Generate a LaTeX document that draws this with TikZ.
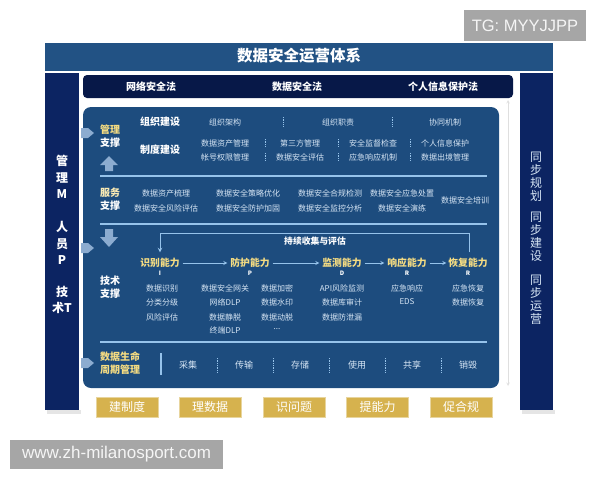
\documentclass[tikz,border=0pt]{standalone}
\usepackage{fontspec}
\setmainfont{Noto Sans CJK SC}
\newfontfamily\wmfont{Liberation Sans}
\definecolor{titleblue}{RGB}{34,82,132}
\definecolor{navy}{RGB}{12,36,98}
\definecolor{lawnavy}{RGB}{7,24,72}
\definecolor{panelblue}{RGB}{29,76,126}
\definecolor{lineblue}{RGB}{150,195,235}
\definecolor{itemtext}{RGB}{215,230,245}
\definecolor{goldtext}{RGB}{245,220,130}
\definecolor{goldbtn}{RGB}{214,178,78}
\definecolor{chevron}{RGB}{140,172,208}
\definecolor{wmgray}{RGB}{166,166,166}
\begin{document}
\begin{tikzpicture}[x=1pt, y=-1pt, line join=miter,
	every node/.style={inner sep=1pt, outer sep=0pt},
	titletext/.style={text=white, font=\bfseries\fontsize{15.5}{15.5}\selectfont},
	lawtext/.style={text=white, font=\bfseries\fontsize{10}{10}\selectfont},
	sidetext/.style={text=white, align=center, font=\bfseries\fontsize{12}{16.5}\selectfont},
	synctext/.style={text=itemtext, align=center, font=\fontsize{12}{13}\selectfont},
	headtext/.style={text=white, align=center, font=\bfseries\fontsize{10}{12.5}\selectfont},
	item/.style={text=itemtext, font=\fontsize{8}{8}\selectfont},
	ability/.style={text=goldtext, font=\bfseries\fontsize{9.8}{9.8}\selectfont},
	letter/.style={text=white, font=\bfseries\fontsize{6}{6}\selectfont},
	flow/.style={->, >=stealth, draw=lineblue, line width=0.8pt},
	hline/.style={draw=lineblue, line width=1.2pt},
	dotsep/.style={draw=lineblue, densely dotted, line width=0.7pt},
	goldbox/.style={fill=goldbtn, draw=goldbtn!55!white, text=white, minimum width=62pt, minimum height=20pt, font=\fontsize{12}{12}\selectfont},
	wmbox/.style={fill=wmgray, text=white!92!gray, font=\wmfont\fontsize{16.5}{16.5}\selectfont, inner sep=0pt}]
	\useasboundingbox (0,0) rectangle (600,480);
	
	% Khung nền
	\fill[titleblue] (45,43) rectangle (553,71);
	\fill[gray!20] (47,410) rectangle (81,414);
	\fill[gray!20] (522,410) rectangle (555,414);
	\fill[navy] (45,73) rectangle (79,410);
	\fill[navy] (520,73) rectangle (553,410);
	\fill[lawnavy, rounded corners=4pt] (83,75) rectangle (513,98);
	\fill[panelblue, rounded corners=8pt] (83,107) rectangle (499,388);
	\coordinate (railtop) at (508,100);
	\coordinate (railbot) at (508,386);
	\draw[<->, >=stealth, gray!25, line width=0.6pt] (railtop) -- (railbot);
	
	% Tiêu đề và luật
	\node[titletext] (title) at (299,56) {数据安全运营体系};
	\node[lawtext] (law1) at (151,86.5) {网络安全法};
	\node[lawtext] (law2) at (297,86.5) {数据安全法};
	\node[lawtext] (law3) at (443,86.5) {个人信息保护法};
	
	% Cột trái và cột phải
	\node[sidetext] (colm) at (62,177) {管\\理\\M};
	\node[sidetext] (colp) at (62,243) {人\\员\\P};
	\node[sidetext] (colt) at (62,300) {技\\术T};
	\node[synctext] (sync1) at (536,176.5) {同\\步\\规\\划};
	\node[synctext] (sync2) at (536,236.5) {同\\步\\建\\设};
	\node[synctext] (sync3) at (536,299.5) {同\\步\\运\\营};
	
	% Mũi tên bên trái
	\foreach \y in {133,248,363}
		\fill[chevron] (81,\y-5) -- (88,\y-5) -- (94,\y) -- (88,\y+5) -- (81,\y+5) -- cycle;
	\fill[chevron] (109,156) -- (118,165) -- (113,165) -- (113,171) -- (105,171) -- (105,165) -- (100,165) -- cycle;
	\fill[chevron] (105,229) -- (113,229) -- (113,237) -- (118,237) -- (109,247) -- (100,237) -- (105,237) -- cycle;
	
	% Quản lý
	\node[headtext] (mgmt) at (110,136) {\textcolor{goldtext}{管理}\\支撑};
	\node[headtext] (org) at (160,122) {组织建设};
	\node[headtext] (rules) at (160,150) {制度建设};
	\node[item] (org1) at (225,122) {组织架构};
	\node[item] (org2) at (338,122) {组织职责};
	\node[item] (org3) at (445,122) {协同机制};
	\node[item] (rule1) at (225,143) {数据资产管理};
	\node[item] (rule2) at (300,143) {第三方管理};
	\node[item] (rule3) at (373,143) {安全监督检查};
	\node[item] (rule4) at (445,143) {个人信息保护};
	\node[item] (rule5) at (225,157) {帐号权限管理};
	\node[item] (rule6) at (300,157) {数据安全评估};
	\node[item] (rule7) at (373,157) {应急响应机制};
	\node[item] (rule8) at (445,157) {数据出境管理};
	\foreach \x in {283,392}
		\draw[dotsep] (\x,117) -- (\x,127);
	\foreach \x in {265,338,410} {
		\draw[dotsep] (\x,139) -- (\x,147);
		\draw[dotsep] (\x,153) -- (\x,161);
	}
	\draw[hline] (100,176) -- (487,176);
	
	% Dịch vụ
	\node[headtext] (serv) at (110,199) {\textcolor{goldtext!60!white}{服务}\\支撑};
	\node[item] (serv1) at (166,193) {数据资产梳理};
	\node[item] (serv2) at (248,193) {数据安全策略优化};
	\node[item] (serv3) at (330,193) {数据安全合规检测};
	\node[item] (serv4) at (402,193) {数据安全应急处置};
	\node[item] (serv5) at (166,208) {数据安全风险评估};
	\node[item] (serv6) at (248,208) {数据安全防护加固};
	\node[item] (serv7) at (330,208) {数据安全监控分析};
	\node[item] (serv8) at (402,208) {数据安全演练};
	\node[item] (serv9) at (465,200) {数据安全培训};
	\draw[hline] (100,224) -- (487,224);
	
	% Kỹ thuật
	\node[headtext] (tech) at (110,287) {技术\\支撑};
	\node[ability] (ident) at (160,263) {识别能力};
	\node[ability] (prot) at (250,263) {防护能力};
	\node[ability] (moni) at (342,263) {监测能力};
	\node[ability] (resp) at (407,263) {响应能力};
	\node[ability] (reco) at (468,263) {恢复能力};
	\draw[flow, shorten <=2pt, shorten >=2pt] (ident) -- (prot);
	\draw[flow, shorten <=2pt, shorten >=2pt] (prot) -- (moni);
	\draw[flow, shorten <=2pt, shorten >=2pt] (moni) -- (resp);
	\draw[flow, shorten <=2pt, shorten >=1pt] (resp) -- (reco);
	\coordinate (loopR) at (469,233);
	\coordinate (loopL) at (160,233);
	\draw[flow, line width=1pt, shorten <=5pt, shorten >=5pt] (reco.north -| loopR) -- (loopR) -- (loopL) -- (ident.north);
	\node[headtext, font=\bfseries\fontsize{8.8}{8.8}\selectfont] (loop) at (315,241) {持续收集与评估};
	\node[letter] (li) at (160,273.5) {I};
	\node[letter] (lp) at (250,273.5) {P};
	\node[letter] (ld) at (342,273.5) {D};
	\node[letter] (lr1) at (407,273.5) {R};
	\node[letter] (lr2) at (468,273.5) {R};
	\node[item] (id1) at (162,288) {数据识别};
	\node[item] (id2) at (162,302) {分类分级};
	\node[item] (id3) at (162,317) {风险评估};
	\node[item] (pr1) at (225,288) {数据安全网关};
	\node[item] (pr2) at (225,302) {网络DLP};
	\node[item] (pr3) at (225,317) {数据静脱};
	\node[item] (pr4) at (225,330) {终端DLP};
	\node[item] (pr5) at (277,288) {数据加密};
	\node[item] (pr6) at (277,302) {数据水印};
	\node[item] (pr7) at (277,317) {数据动脱};
	\node[item] (pr8) at (277,329) {...};
	\node[item] (mo1) at (342,288) {API风险监测};
	\node[item] (mo2) at (342,302) {数据库审计};
	\node[item] (mo3) at (342,317) {数据防泄漏};
	\node[item] (rs1) at (407,288) {应急响应};
	\node[item] (rs2) at (407,302) {EDS};
	\node[item] (rc1) at (468,288) {应急恢复};
	\node[item] (rc2) at (468,302) {数据恢复};
	\draw[hline] (100,342) -- (487,342);
	
	% Vòng đời dữ liệu
	\node[headtext, text=goldtext] (life) at (120,363) {数据生命\\周期管理};
	\draw[draw=lineblue, line width=1.2pt] (161,353) -- (161,375);
	\node[item, font=\fontsize{9}{9}\selectfont] (lc1) at (188,365) {采集};
	\node[item, font=\fontsize{9}{9}\selectfont] (lc2) at (244,365) {传输};
	\node[item, font=\fontsize{9}{9}\selectfont] (lc3) at (300,365) {存储};
	\node[item, font=\fontsize{9}{9}\selectfont] (lc4) at (357,365) {使用};
	\node[item, font=\fontsize{9}{9}\selectfont] (lc5) at (412,365) {共享};
	\node[item, font=\fontsize{9}{9}\selectfont] (lc6) at (468,365) {销毁};
	\foreach \x in {217,273,329,385,441}
		\draw[dotsep] (\x,358) -- (\x,373);
	
	% Nút vàng
	\node[goldbox] (btn1) at (127,407) {建制度};
	\node[goldbox] (btn2) at (210,407) {理数据};
	\node[goldbox] (btn3) at (294,407) {识问题};
	\node[goldbox] (btn4) at (377.5,407) {提能力};
	\node[goldbox] (btn5) at (461,407) {促合规};
	
	% Dấu nước
	\node[wmbox, minimum width=122pt, minimum height=31pt] (tg) at (525,25.5) {TG: MYYJJPP};
	\node[wmbox, minimum width=213pt, minimum height=29pt, font=\wmfont\fontsize{17}{17}\selectfont] (site) at (116.5,454.5) {www.zh-milanosport.com};
	
\end{tikzpicture}
\end{document}
